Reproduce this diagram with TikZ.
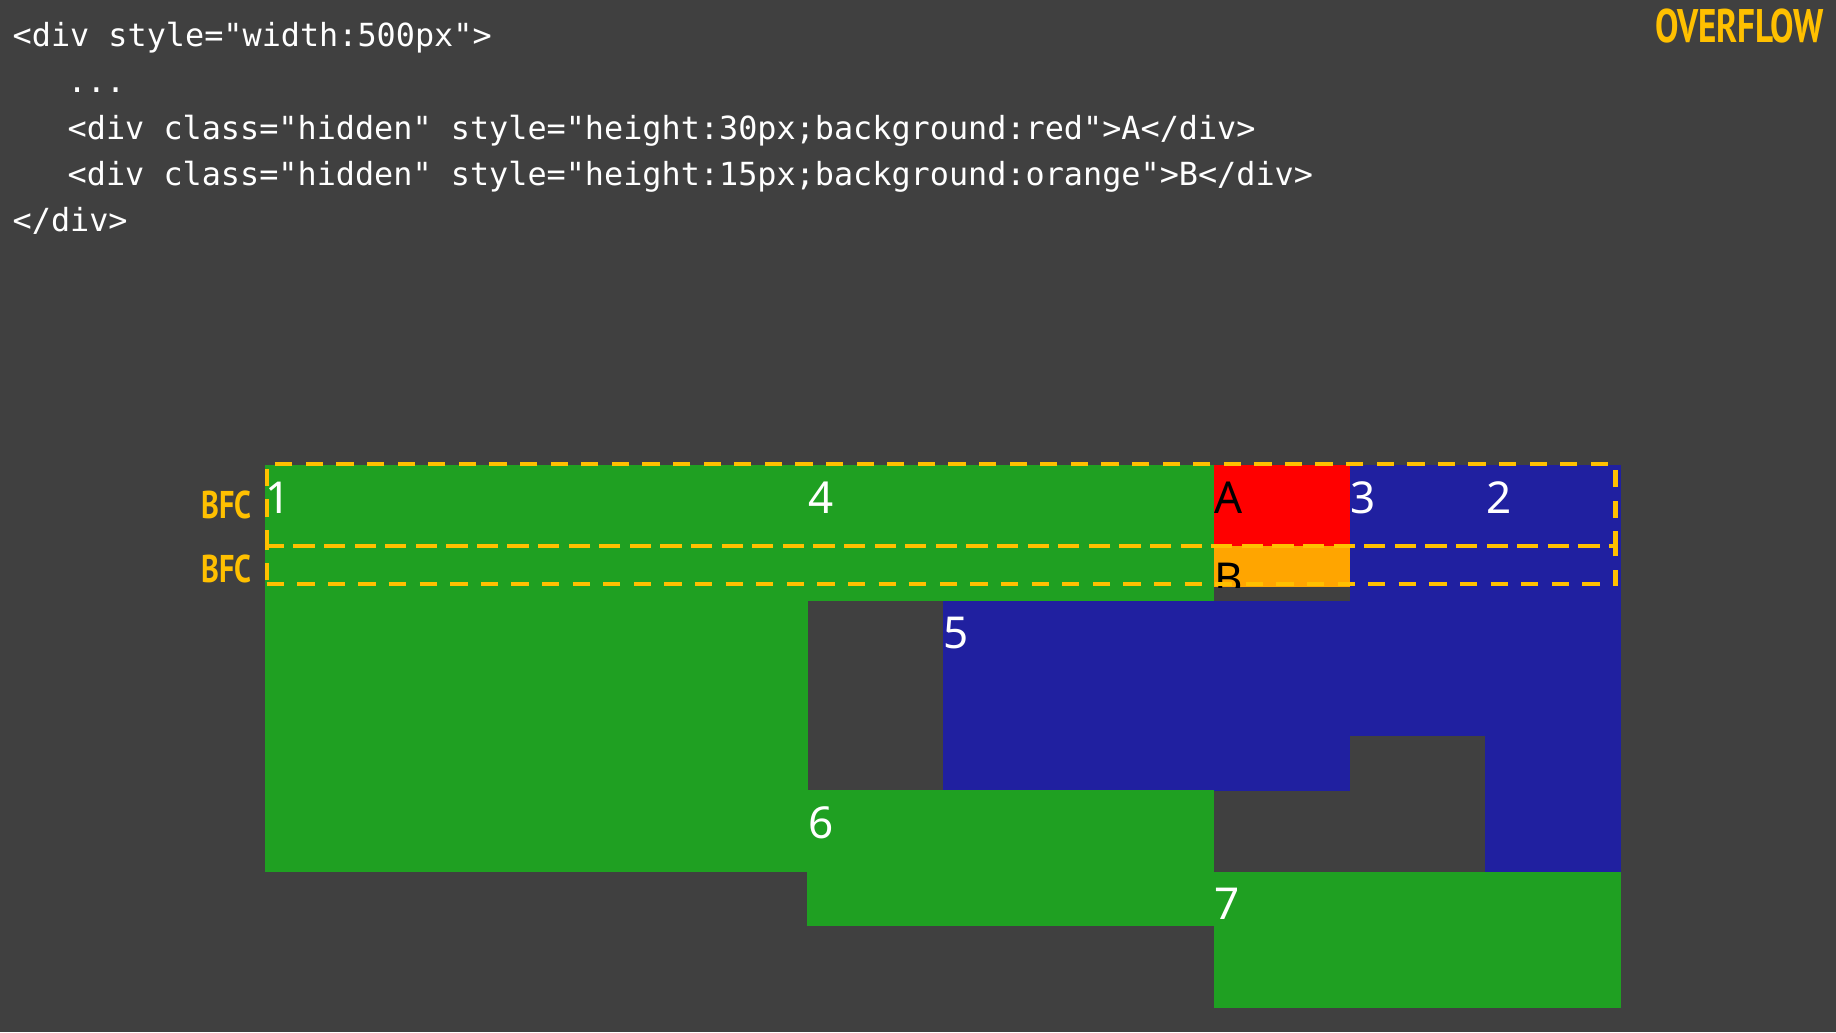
\documentclass[tikz,border=0pt]{standalone}
\usepackage{fontspec}
\usepackage{graphicx}
\setmainfont{Noto Sans}
\setmonofont{DejaVu Sans Mono}
\newfontfamily\brushfont{PT Sans}
\usepackage{tikz}
\usetikzlibrary{positioning}

\definecolor{bgray}{HTML}{404040}
\definecolor{bgreen}{RGB}{31,160,34}
\definecolor{bblue}{RGB}{32,32,160}
\definecolor{bred}{HTML}{FF0000}
\definecolor{borange}{HTML}{FFA500}
\definecolor{byellow}{HTML}{FFC000}

\begin{document}
\begin{tikzpicture}[x=0.01cm, y=-0.01cm,
  blk/.style={rectangle, anchor=north west, inner sep=0pt, outer sep=0pt},
  num/.style={anchor=base west, inner sep=0pt, text=white,
              font=\fontsize{12.5}{15}\selectfont},
  code/.style={anchor=base west, inner sep=0pt, text=white,
               font=\ttfamily\fontsize{9.05}{11}\selectfont},
  tag/.style={inner sep=0pt, text=byellow,
              font=\brushfont\bfseries\fontsize{11}{13}\selectfont},
  bfc/.style={blk, draw=byellow, line width=1.14pt,
              dash pattern=on 4.9pt off 3.8pt}
]
% background and page size
\fill[bgray] (0,0) rectangle (1836,1032);
\useasboundingbox (0,0) rectangle (1836,1032);

% the markup
\node[code] (c1) at (12,46)  {<div style="width:500px">};
\node[code] (c2) at (67,92)  {...};
\node[code] (c3) at (67,139) {<div class="hidden" style="height:30px;background:red">A</div>};
\node[code] (c4) at (67,185) {<div class="hidden" style="height:15px;background:orange">B</div>};
\node[code] (c5) at (12,231) {</div>};

\node[tag, anchor=base east, font=\brushfont\bfseries\fontsize{13.4}{16}\selectfont]
  (title) at (1824,42.3) {\scalebox{0.745}[1]{OVERFLOW}};

% floats
\node[blk, fill=bgreen, minimum width=5.424cm, minimum height=4.068cm] (b1) at (265,465) {};
\node[blk, fill=bgreen, minimum width=4.068cm, minimum height=1.356cm] (b4) at (807.4,465) {};
\node[blk, fill=bred, minimum width=1.356cm, minimum height=0.8136cm] (bA) at (1214.2,465) {};
\node[blk, fill=borange, minimum width=1.356cm, minimum height=0.4068cm] (bB) at (1214.2,546.4) {};
\node[blk, fill=bblue, minimum width=1.356cm, minimum height=2.712cm] (b3) at (1349.8,465) {};
\node[blk, fill=bblue, minimum width=1.356cm, minimum height=4.068cm] (b2) at (1485.4,465) {};
\node[blk, fill=bblue, minimum width=4.068cm, minimum height=1.8984cm] (b5) at (943,600.6) {};
\node[blk, fill=bgreen, minimum width=4.068cm, minimum height=1.356cm] (b6) at (807.4,790.4) {};
\node[blk, fill=bgreen, minimum width=4.068cm, minimum height=1.356cm] (b7) at (1214.2,871.8) {};

% labels
\node[num] (n1) at ([yshift=-0.48cm]b1.north west) {1};
\node[num] (n4) at ([yshift=-0.48cm]b4.north west) {4};
\node[num, text=black] (nA) at ([yshift=-0.48cm]bA.north west) {A};
\begin{scope}
  \clip (bB.north west) rectangle (bB.south east);
  \node[num, text=black] (nB) at ([yshift=-0.48cm]bB.north west) {B};
\end{scope}
\node[num] (n3) at ([yshift=-0.48cm]b3.north west) {3};
\node[num] (n2) at ([yshift=-0.48cm]b2.north west) {2};
\node[num] (n5) at ([yshift=-0.48cm]b5.north west) {5};
\node[num] (n6) at ([yshift=-0.48cm]b6.north west) {6};
\node[num] (n7) at ([yshift=-0.48cm]b7.north west) {7};

% block formatting contexts
\node[bfc, minimum width=13.48cm, minimum height=0.817cm] (ctxA) at (266.7,464) {};
\node[bfc, minimum width=13.48cm, minimum height=0.386cm] (ctxB) at (266.7,545.7) {};
\node[tag, left=0.147cm of ctxA] (tA) {\scalebox{0.78}[1]{BFC}};
\node[tag, left=0.147cm of ctxB, yshift=-0.04cm] (tB) {\scalebox{0.78}[1]{BFC}};
\end{tikzpicture}
\end{document}
